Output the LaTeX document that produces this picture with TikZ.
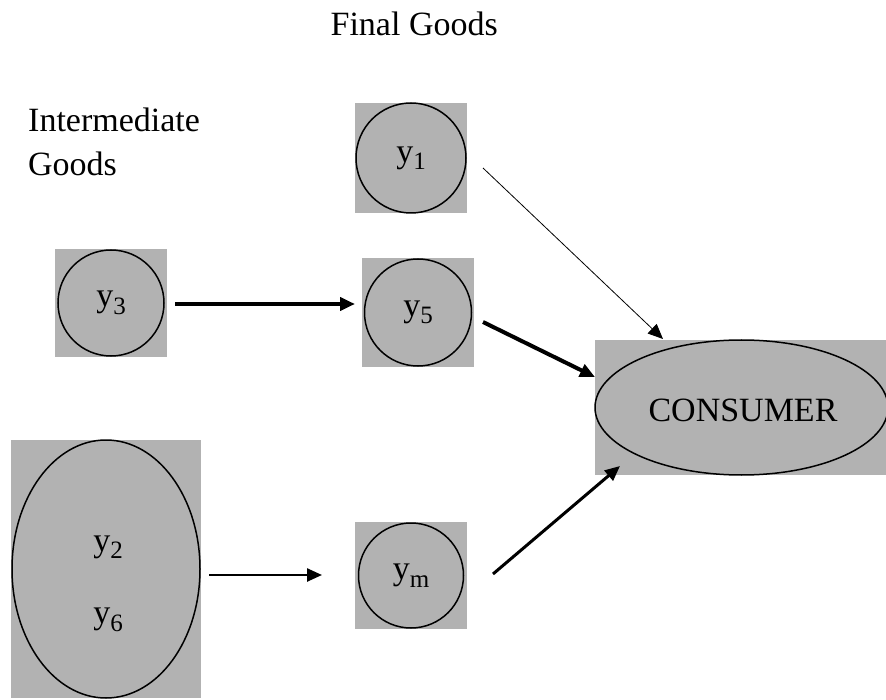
\documentclass[tikz,border=0pt]{standalone}
\usepackage{fontspec}
\setmainfont{Liberation Serif}
\usetikzlibrary{arrows.meta,calc,shapes.geometric}
\definecolor{boxgray}{gray}{0.70}
\newcommand\mysub[1]{\raisebox{-0.22em}{\fontsize{25}{25}\selectfont #1}}
\begin{document}
\begin{tikzpicture}[x=1pt,y=-1pt,
  gbox/.style={fill=boxgray, draw=none, inner sep=0pt, outer sep=0pt, rectangle},
  ring/.style={circle, draw=black, line width=1.5pt, fill=boxgray, inner sep=0pt, minimum size=#1},
  oval/.style={ellipse, draw=black, line width=1.5pt, fill=boxgray, inner sep=0pt},
  lab/.style={font=\fontsize{34}{44}\selectfont, inner sep=0pt},
  tip/.style={-{Triangle[length=15pt,width=13pt]}},
]
\useasboundingbox (0,0) rectangle (886,700);

% title texts
\node[lab, anchor=base east] (final) at (498,36) {Final Goods};
\node[lab, anchor=base west, align=left] (inter) at (28,176) {Intermediate\\Goods};

% y1
\node[gbox, minimum width=112pt, minimum height=110pt] (y1box) at (411,158) {};
\node[ring=110pt, lab] (y1) at (411,158) {y\mysub{1}};
% y3
\node[gbox, minimum width=112pt, minimum height=108pt] (y3box) at (111,303) {};
\node[ring=106pt, lab] (y3) at (111,303) {y\mysub{3}};
% y5
\node[gbox, minimum width=112pt, minimum height=109pt] (y5box) at (418,312.5) {};
\node[ring=107pt, lab] (y5) at (418,312.5) {y\mysub{5}};
% ym
\node[gbox, minimum width=112pt, minimum height=107pt] (ymbox) at (411,575.5) {};
\node[ring=105pt, lab] (ym) at (411,575.5) {y\mysub{m}};
% consumer
\node[gbox, minimum width=300pt, minimum height=135pt, anchor=north west] (cbox) at (595,340) {};
\node[oval, minimum width=293pt, minimum height=135pt] (cons) at (741.5,407.5) {};
\node[lab] (constext) at (743,410) {CONSUMER};
% y2 y6
\node[gbox, minimum width=190pt, minimum height=258pt] (y26box) at (106,569) {};
\node[oval, minimum width=188pt, minimum height=258pt] (y26) at (106,569) {};
\node[lab] (y2) at (108,547) {y\mysub{2}};
\node[lab] (y6) at (108,620) {y\mysub{6}};

% connectors
\coordinate (a1s) at (483,168);
\coordinate (a1e) at (663,339);
\draw[tip, line width=0.8pt] (a1s) -- (a1e);

\coordinate (a2s) at (y3box.east |- 0,304);
\coordinate (a2e) at (355,304);
\draw[tip, line width=4pt] ([xshift=8pt]a2s) -- (a2e);

\coordinate (a3s) at (483,322);
\coordinate (a3e) at (595,377);
\draw[tip, line width=4pt] (a3s) -- (a3e);

\coordinate (a4s) at (209,575);
\coordinate (a4e) at (322,575);
\draw[tip, line width=2.5pt] (a4s) -- (a4e);

\coordinate (a5s) at (493,574);
\coordinate (a5e) at (620,466);
\draw[tip, line width=3pt] (a5s) -- (a5e);
\end{tikzpicture}
\end{document}
